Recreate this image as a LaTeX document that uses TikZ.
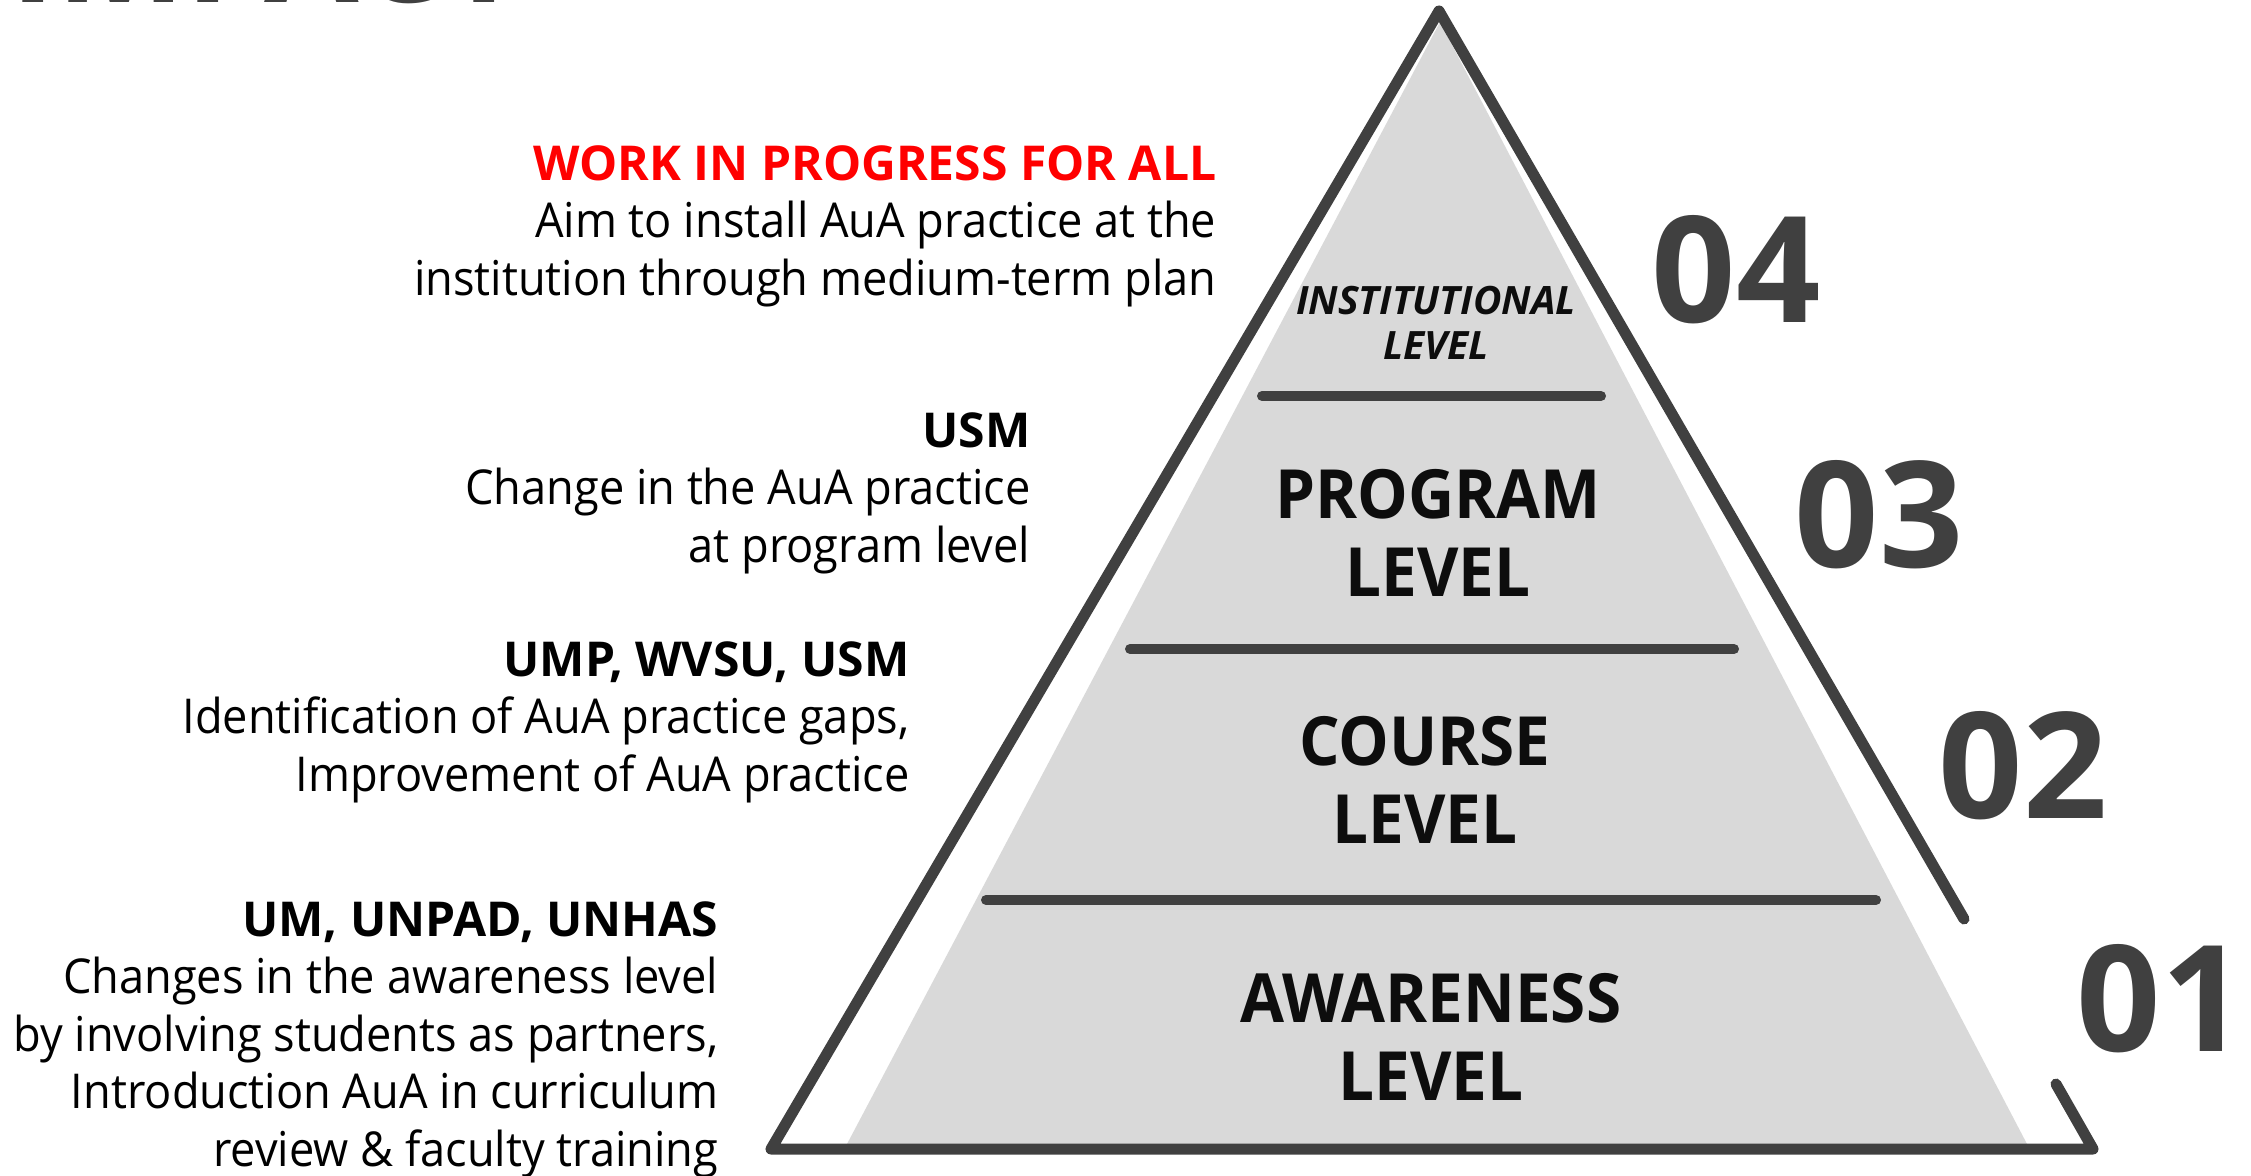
\documentclass[tikz,border=0pt]{standalone}
\usepackage{fontspec}
\setmainfont{Open Sans}
\newfontfamily\narrowfont{Open Sans}[FakeStretch=0.94]
\definecolor{pyrline}{HTML}{404040}
\definecolor{pyrfill}{HTML}{D9D9D9}
\definecolor{lbltext}{HTML}{0D0D0D}
\newcommand{\headline}[1]{{\rmfamily\bfseries #1}}
\tikzset{
  desc/.style={anchor=base east, align=right, inner sep=0pt,
    font=\narrowfont\fontsize{13.66pt}{16.33pt}\selectfont},
  lvl/.style={anchor=base, align=center, inner sep=0pt, text=lbltext,
    font=\narrowfont\bfseries\fontsize{19.3pt}{21.9pt}\selectfont},
  num/.style={anchor=base, inner sep=0pt, text=pyrline,
    font=\bfseries\fontsize{42pt}{42pt}\selectfont},
  divider/.style={pyrline, line width=1mm, line cap=round},
}

\begin{document}
\begin{tikzpicture}[x=0.01cm,y=-0.01cm]
\useasboundingbox (0,0) rectangle (2251,1176);
\node [anchor=base west, inner sep=0pt, text=pyrline, font=\bfseries\fontsize{39pt}{39pt}\selectfont] (title) at (10,3) {IMPACT};

% pyramid body
\fill [pyrfill] (1440,22) -- (2027,1144) -- (847,1144) -- cycle;
\draw [pyrline, line width=1.1mm, line join=round, line cap=round]
  (2056,1084) -- (2093,1149) -- (771,1149) -- (1439,11) -- (1964,919);
\draw [divider] (1262,396) -- (1601,396);
\draw [divider] (1130,649) -- (1734,649);
\draw [divider] (986,900) -- (1876,900);

% base anchor sits on the last line
\node [lvl, font=\bfseries\itshape\fontsize{11.1pt}{12.8pt}\selectfont] (inst) at (1436,360) {INSTITUTIONAL\\LEVEL};
\node [lvl] (prog) at (1438,596) {PROGRAM\\LEVEL};
\node [lvl] (course) at (1425,843) {COURSE\\LEVEL};
\node [lvl] (aware) at (1431,1100) {AWARENESS\\LEVEL};

\node [num] (n4) at (1736,323) {04};
\node [num] (n3) at (1879,567) {03};
\node [num] (n2) at (2023,818) {02};
\node [num] (n1) at (2161,1051) {01};

\node [desc] (d4) at (1217,295) {\headline{\textcolor{red}{WORK IN PROGRESS FOR ALL}}\\Aim to install AuA practice at the\\institution through medium-term plan};
\node [desc] (d3) at (1031,562) {\headline{USM}\\Change in the AuA practice\\at program level};
\node [desc] (d2) at (910,791) {\headline{UMP, WVSU, USM}\\Identification of AuA practice gaps,\\Improvement of AuA practice};
\node [desc] (d1) at (719,1166) {\headline{UM, UNPAD, UNHAS}\\Changes in the awareness level\\by involving students as partners,\\Introduction AuA in curriculum\\review \& faculty training};
\end{tikzpicture}
\end{document}
